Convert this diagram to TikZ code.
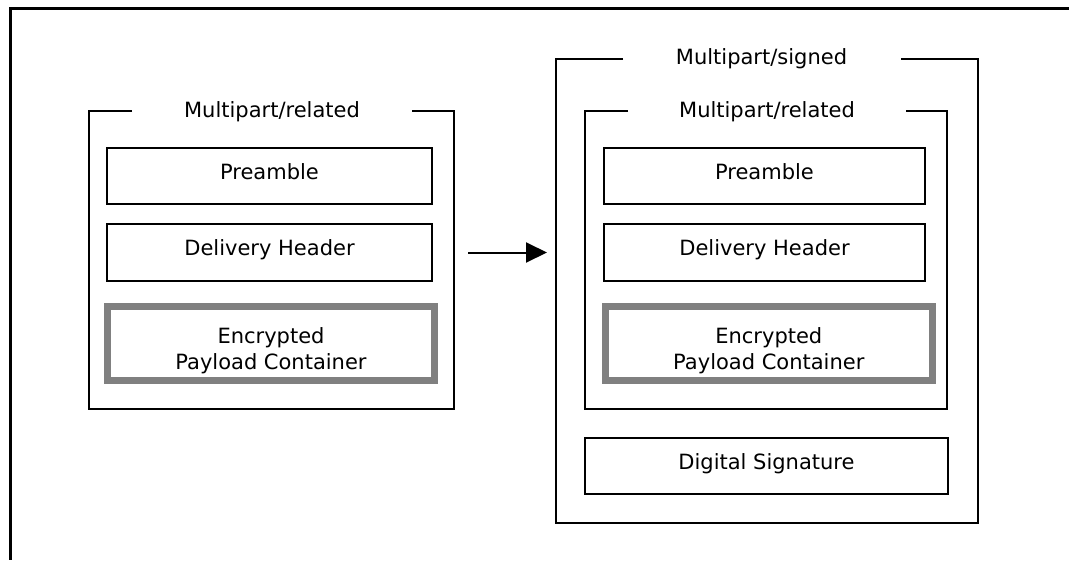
\documentclass[tikz,border=0pt]{standalone}
\usepackage{fontspec}
\setmainfont{DejaVu Sans}
\usetikzlibrary{calc,arrows.meta}
\definecolor{encgray}{HTML}{808080}
\begin{document}
\begin{tikzpicture}[x=1pt,y=-1pt,
  font=\fontsize{21}{25.7}\selectfont,
  part/.style={draw=black,line width=2pt,minimum width=#1,minimum height=56pt,
    inner sep=0pt,outer sep=0pt,text height=15pt,text depth=9pt},
  encbox/.style={draw=encgray,line width=7pt,minimum width=327pt,minimum height=74pt,
    inner sep=0pt,outer sep=0pt,text height=20pt,text depth=20pt},
  bracketbox/.style 2 args={draw=none,minimum width=#1,minimum height=#2,inner sep=0pt,outer sep=0pt},
  bracketline/.style={draw=black,line width=2pt},
  grouplabel/.style={anchor=base,inner sep=0pt},
  frameline/.style={draw=black,line width=3pt}
]
\path[use as bounding box] (0,0) rectangle (1069,560);
\coordinate (ftr) at (1069,8.3);
\coordinate (ftl) at (10.5,8.3);
\coordinate (fbl) at (10.5,560);
\draw[frameline] (ftr) -- (ftl) -- (fbl);

% left group
\node[bracketbox={365pt}{298pt}] (lbr) at (271.5,260) {};
\draw[bracketline] ($(lbr.north west)+(43,0)$) -- (lbr.north west) -- (lbr.south west)
  -- (lbr.south east) -- (lbr.north east) -- ++(-42,0);
\node[grouplabel] (llab) at (272,117.3) {Multipart/related};
\node[part=325pt] (lpre) at (269.5,176) {Preamble};
\node[part=325pt,minimum height=57pt] (ldel) at (269.5,252.5) {Delivery Header};
\node[encbox] (lenc) at (271,343.5) {\begin{tabular}[t]{@{}c@{}}Encrypted\\Payload Container\end{tabular}};

% right group
\node[bracketbox={422pt}{464pt}] (rout) at (767,291) {};
\draw[bracketline] ($(rout.north west)+(67,0)$) -- (rout.north west) -- (rout.south west)
  -- (rout.south east) -- (rout.north east) -- ++(-77,0);
\node[grouplabel] (rolab) at (761.5,64.2) {Multipart/signed};
\node[bracketbox={362pt}{298pt}] (rin) at (766,260) {};
\draw[bracketline] ($(rin.north west)+(43,0)$) -- (rin.north west) -- (rin.south west)
  -- (rin.south east) -- (rin.north east) -- ++(-41,0);
\node[grouplabel] (rilab) at (767,117.5) {Multipart/related};
\node[part=321pt] (rpre) at (764.5,176) {Preamble};
\node[part=321pt,minimum height=57pt] (rdel) at (764.5,252.5) {Delivery Header};
\node[encbox] (renc) at (768.8,343.5) {\begin{tabular}[t]{@{}c@{}}Encrypted\\Payload Container\end{tabular}};
\node[part=363pt] (rsig) at (766.5,466) {Digital Signature};

% arrow
\draw[line width=2pt,-{Triangle[length=21pt,width=20pt]},shorten <=14pt,shorten >=9pt]
  (lbr.east |- ldel.center) -- (rout.west |- ldel.center);
\end{tikzpicture}
\end{document}
